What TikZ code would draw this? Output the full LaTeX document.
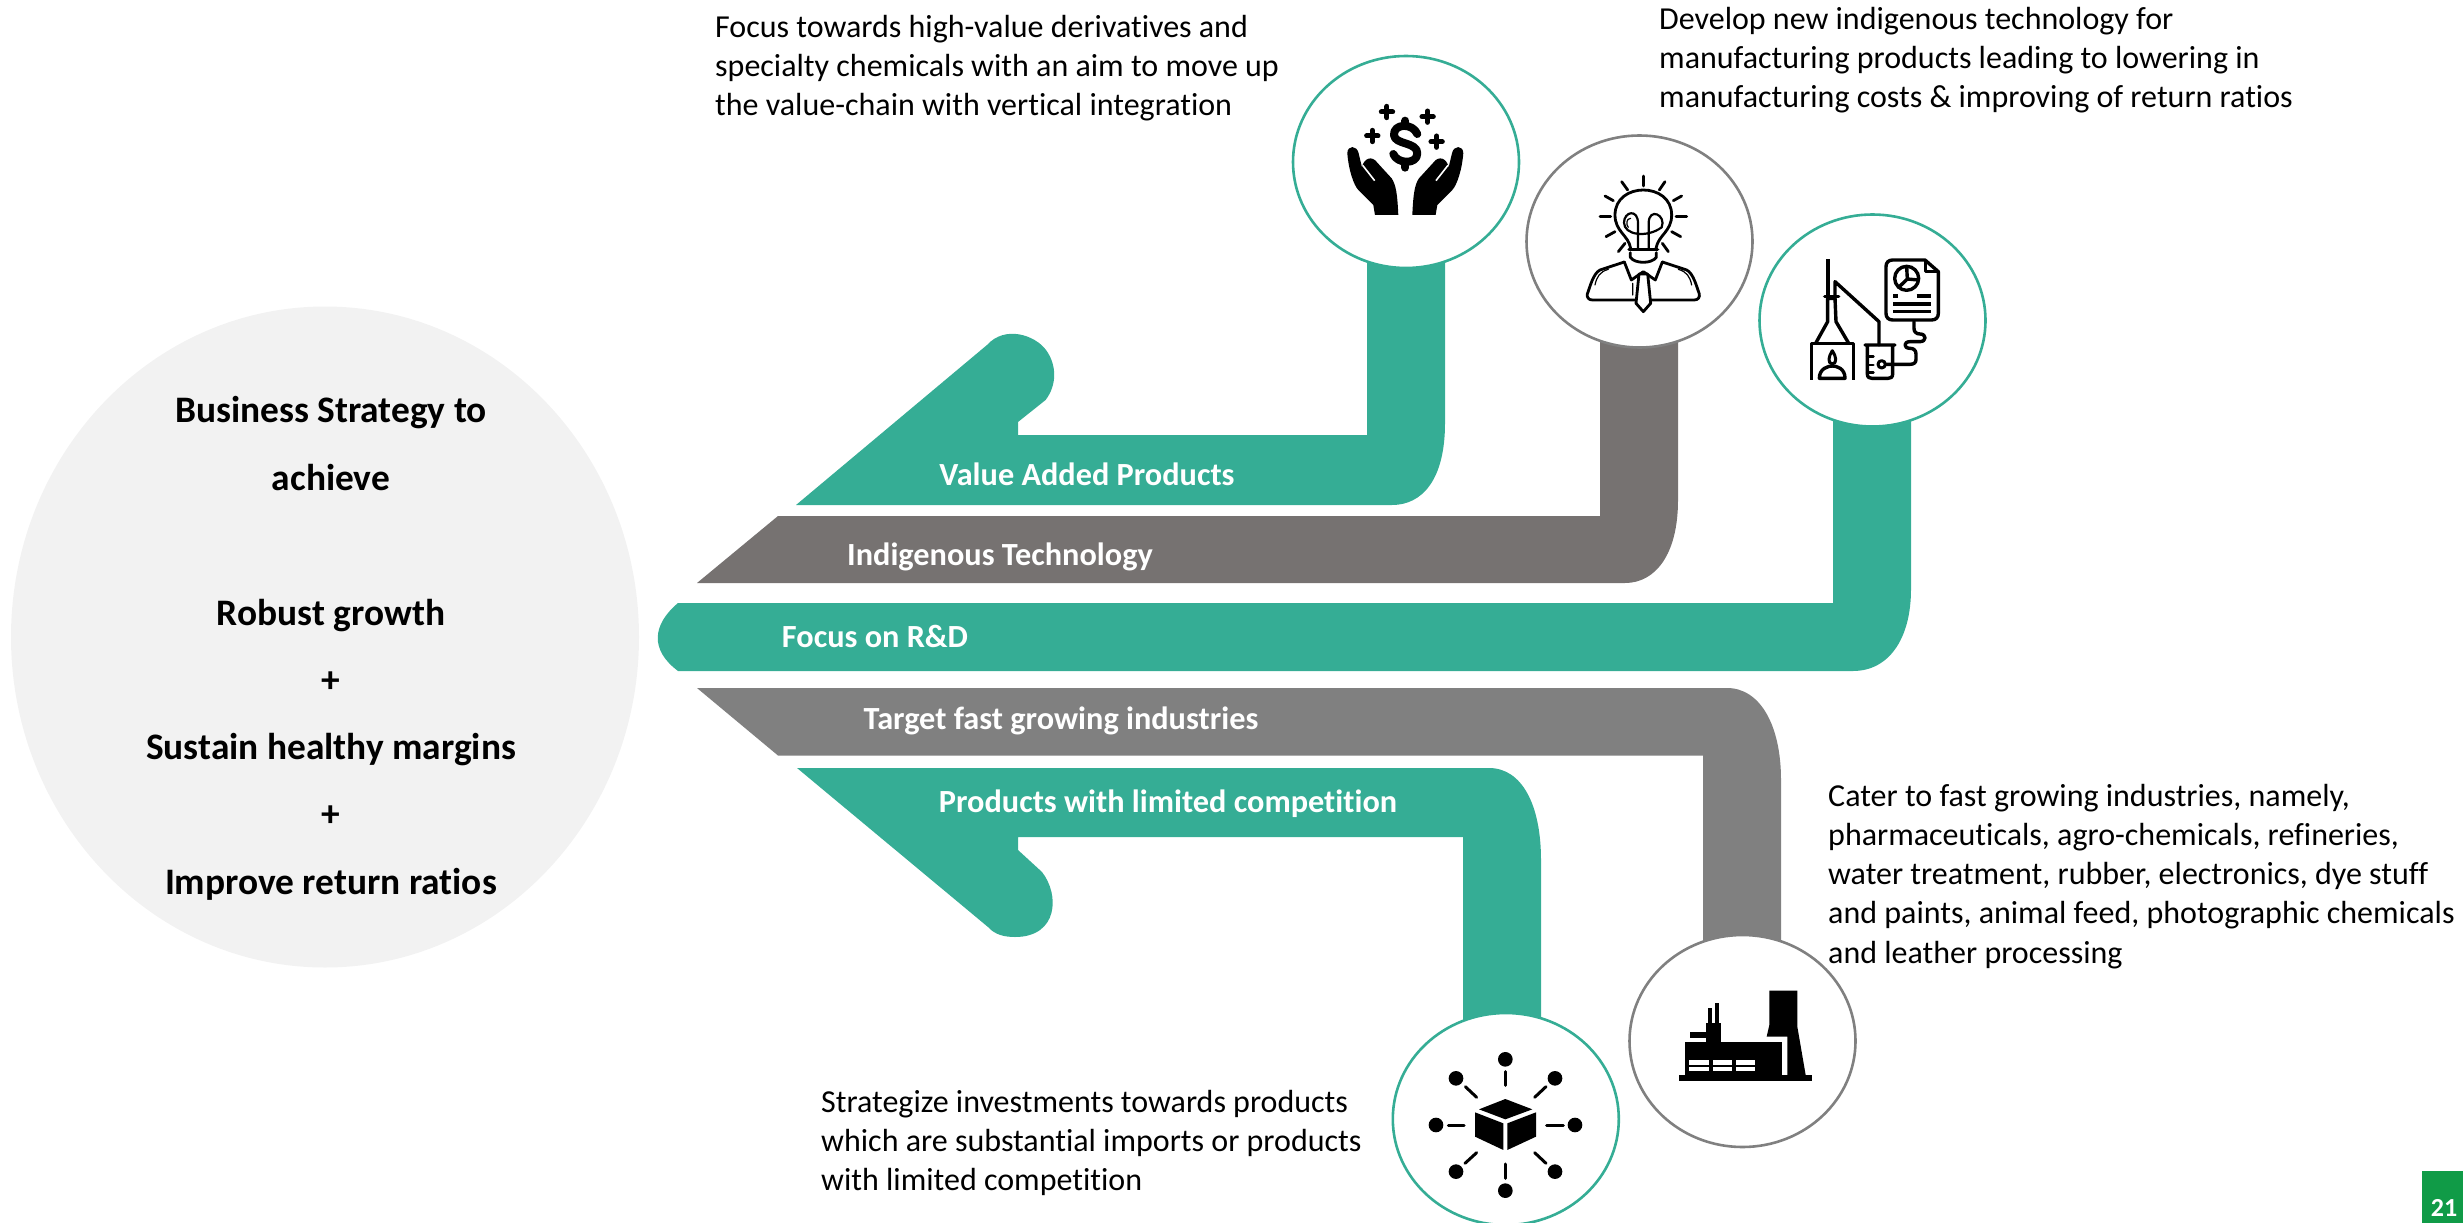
\documentclass[tikz,border=0pt]{standalone}
\usepackage{fontspec}
\setmainfont[Ligatures=NoCommon]{Carlito}
\usetikzlibrary{shapes.geometric}
\definecolor{bandteal}{HTML}{35AD95}
\definecolor{banddark}{HTML}{767271}
\definecolor{bandgrey}{HTML}{808080}
\definecolor{discgrey}{HTML}{F2F2F2}
\definecolor{pagegreen}{HTML}{109B47}
\tikzset{
  band/.style={fill=#1, draw=none},
  ring/.style={ellipse, draw=#1, fill=white, line width=2.6pt, minimum width=226pt, minimum height=212pt, inner sep=0pt},
  note/.style={anchor=north west, align=left, inner sep=0pt, font=\fontsize{32}{39.3}\selectfont},
  bandlabel/.style={anchor=center, inner sep=0pt, text=white, font=\fontsize{32.3}{38}\bfseries\selectfont},
  disclabel/.style={anchor=center, inner sep=0pt, font=\fontsize{37.4}{44}\bfseries\selectfont},
  iconunits/.style={x=0.3333pt, y=-0.3333pt},
  iconline/.style={line width=#1, line cap=round, line join=round},
}
\begin{document}
\begin{tikzpicture}[x=1pt,y=-1pt]
    \useasboundingbox (0,0) rectangle (2463,1223);

    \node[ellipse, fill=discgrey, minimum width=628pt, minimum height=661pt, inner sep=0pt] (disc) at (325,637) {};
    \node[disclabel] (d1) at (331,413) {Business Strategy to};
    \node[disclabel] (d2) at (331,478) {achieve};
    \node[disclabel] (d3) at (331,616) {Robust growth};
    \node[disclabel] (d4) at (331,682) {+};
    \node[disclabel] (d5) at (331,750) {Sustain healthy margins};
    \node[disclabel] (d6) at (331,816) {+};
    \node[disclabel] (d7) at (331,884) {Improve return ratios};

    % bands
    \fill[band=bandteal] (796,505) -- (1392,505) .. controls (1422,505) and (1445,480) .. (1445,423)
      -- (1445,162) -- (1367,162) -- (1367,435) -- (1018,435) -- (1018,422) -- (1045.6,400)
      .. controls (1057,385) and (1057,365) .. (1046,350) .. controls (1035,335) and (1005,325) .. (987,345) -- cycle;
    \fill[band=banddark] (697,583) -- (778,516) -- (1600,516) -- (1600,300) -- (1678,300) -- (1678,500)
      .. controls (1678,555) and (1655,583) .. (1625,583) -- cycle;
    \fill[band=bandteal] (678,603) -- (1833,603) -- (1833,400) -- (1911,400) -- (1911,589)
      .. controls (1911,640) and (1888,671) .. (1853,671) -- (678,671)
      .. controls (650,650) and (652,625) .. (678,603) -- cycle;
    \fill[band=bandgrey] (697,688) -- (1727,688) .. controls (1760,688) and (1781,725) .. (1781,780)
      -- (1781,1000) -- (1703,1000) -- (1703,755.5) -- (778,755.5) -- cycle;
    \fill[band=bandteal] (797,768) -- (1489,768) .. controls (1522,768) and (1541,805) .. (1541,860)
      -- (1541,1100) -- (1463,1100) -- (1463,837) -- (1018,837) -- (1018,850) -- (1042,872)
      .. controls (1060,895) and (1058,937) .. (1015,937) .. controls (1005,937) and (995,935) .. (988,927) -- cycle;

    \node[bandlabel] (valuelabel) at (1087,474.5) {Value Added Products};
    \node[bandlabel] (indiglabel) at (1000,557) {Indigenous Technology};
    \node[bandlabel] (focuslabel) at (875,636.5) {Focus on R\&D};
    \node[bandlabel] (targetlabel) at (1061,721) {Target fast growing industries};
    \node[bandlabel] (limitlabel) at (1168,804) {Products with limited competition};

    \node[ring=bandteal] (r1) at (1406,162) {};
    \node[ring=bandgrey] (r2) at (1639.5,241.5) {};
    \node[ring=bandteal] (r3) at (1872.5,320.5) {};
    \node[ring=bandgrey] (r4) at (1742.5,1041) {};
    \node[ring=bandteal] (r5) at (1505.8,1119) {};

    % hands
    \begin{scope}[shift={(1405.3,90)},iconunits]
      \foreach \sgn in {1,-1} {
        \fill[xscale=\sgn] (-174,190) .. controls (-174,165) and (-145,165) .. (-140,190) -- (-130,232)
          .. controls (-125,205) and (-100,195) .. (-84,218) -- (-41,265) .. controls (-28,285) and (-24,310) .. (-21,375)
          -- (-91,375) -- (-96,345) -- (-141,300) .. controls (-155,285) and (-170,240) .. cycle;
        \draw[white, line width=1.6pt, xscale=\sgn] (-128,226) -- (-92,272);
      }
      \draw[iconline=8pt] (36,132) .. controls (22,98) and (-36,100) .. (-34,135)
        .. controls (-32,165) and (36,155) .. (36,190) .. controls (36,225) and (-25,222) .. (-36,192);
      \draw[iconline=8pt] (0,92) -- (0,106) (0,218) -- (0,233);
      \foreach \px/\py in {-55/66, 67/80, -99/138, 94/155} {
        \draw[iconline=5pt] (\px-17,\py) -- (\px+17,\py) (\px,\py-17) -- (\px,\py+17);
      }
    \end{scope}

    % bulb head
    \begin{scope}[shift={(1560,140)},iconunits]
      \foreach \ax/\ay/\bx/\by in {250/108/250/138, 185/125/203/150, 135/168/160/182, 120/229/152/229, 138/290/165/275, 175/335/195/310,
          315/125/298/150, 365/168/340/182, 380/229/348/229, 362/290/335/275, 325/335/307/310} {
        \draw[iconline=2.8pt] (\ax,\ay) -- (\bx,\by);
      }
      \draw[iconline=2.8pt] (212,325) .. controls (205,285) and (165,275) .. (165,225)
        .. controls (165,125) and (335,125) .. (335,225) .. controls (335,275) and (295,285) .. (288,325);
      \draw[iconline=3.2pt] (207,328) -- (293,328);
      \draw[iconline=2.2pt] (234,325) -- (234,250) .. controls (234,205) and (192,215) .. (192,248)
        .. controls (192,285) and (260,295) .. (305,262) .. controls (320,225) and (266,200) .. (266,250) -- (266,325);
      \draw[iconline=2.8pt] (211,338) -- (211,352) .. controls (225,372) and (275,372) .. (289,352) -- (289,338);
      \draw[iconline=2.8pt] (193,366) -- (120,390) .. controls (100,400) and (90,440) .. (82,462)
        .. controls (80,472) and (86,480) .. (97,480) -- (403,480) .. controls (414,480) and (420,472) .. (418,462)
        .. controls (410,440) and (400,400) .. (380,390) -- (307,366);
      \draw[iconline=2.8pt] (193,366) -- (214,420) -- (250,395) -- (286,420) -- (307,366);
      \filldraw[iconline=2.8pt, fill=white] (237,402) -- (228,490) -- (250,515) -- (272,490) -- (263,402) -- cycle;
      \draw[iconline=1.2pt] (218,430) -- (218,465) (105,435) .. controls (110,410) and (120,395) .. (145,388)
        (395,435) .. controls (390,410) and (380,395) .. (355,388) (212,235) .. controls (198,235) and (198,255) .. (205,262);
    \end{scope}

    % still and report
    \begin{scope}[shift={(1780,200)},iconunits]
      \draw[iconline=3.4pt, line cap=butt] (95,540) -- (95,430) -- (220,430) -- (220,540);
      \draw[iconline=3.4pt] (108,428) -- (143,365) -- (143,295) -- (165,295) -- (168,365) -- (205,428);
      \draw[iconline=3.4pt] (134,290) -- (176,290);
      \draw[iconline=3.8pt, line cap=butt] (143,178) -- (143,290);
      \draw[iconline=3.4pt] (165,295) -- (165,245) -- (297,365) -- (297,435);
      \draw[iconline=3pt] (157,452) .. controls (145,470) and (142,490) .. (157,492) .. controls (172,490) and (169,470) .. (157,452);
      \draw[iconline=3.4pt] (118,535) .. controls (118,505) and (145,498) .. (157,498) .. controls (170,498) and (195,505) .. (195,535) -- cycle;
      \draw[iconline=3.4pt] (255,435) -- (345,435) (262,435) -- (262,522) .. controls (262,532) and (268,535) .. (275,535)
        -- (325,535) .. controls (332,535) and (338,532) .. (338,522) -- (338,435);
      \draw[iconline=2.8pt] (262,470) -- (280,470) (262,495) -- (280,495) (262,518) -- (280,518);
      \draw[iconline=3pt] (305,493) circle[radius=11];
      \draw[iconline=3.4pt] (318,493) -- (390,493) .. controls (402,493) and (408,488) .. (408,478) -- (408,462)
        .. controls (408,450) and (400,445) .. (390,445) .. controls (370,445) and (370,425) .. (390,425) -- (420,425)
        .. controls (440,425) and (440,402) .. (420,402) .. controls (408,402) and (402,395) .. (402,385) -- (402,365);
      \draw[iconline=3.4pt] (435,180) -- (338,180) .. controls (325,180) and (318,188) .. (318,200) -- (318,340)
        .. controls (318,352) and (325,360) .. (338,360) -- (455,360) .. controls (468,360) and (475,352) .. (475,340)
        -- (475,215) -- cycle;
      \draw[iconline=3pt] (435,182) -- (435,215) -- (475,215);
      \draw[iconline=3.4pt] (380,235) circle[radius=36];
      \draw[iconline=3.4pt] (380,200) -- (382,237) -- (415,240) (382,237) -- (356,262);
      \draw[iconline=3.4pt, line cap=butt] (340,288) -- (355,288) (410,288) -- (452,288) (340,312) -- (452,312) (340,335) -- (452,335);
    \end{scope}

    % factory
    \begin{scope}[shift={(1660,970)},iconunits]
      \fill (58,315) rectangle (455,333);
      \fill (75,215) rectangle (365,315);
      \fill (138,160) rectangle (183,215);
      \fill (90,187) rectangle (150,205);
      \fill (145,113) rectangle (155,160);
      \fill (165,100) rectangle (177,160);
      \fill (328,62) -- (412,62) -- (412,170) -- (437,315) -- (382,315) -- (382,200) -- (320,200) -- (328,165) -- cycle;
      \foreach \wx in {88,158,228} {
        \fill[white] (\wx,270) rectangle (\wx+58,284);
        \fill[white] (\wx,290) rectangle (\wx+58,302);
      }
    \end{scope}

    % cube and spokes
    \begin{scope}[shift={(1400,1010)},iconunits]
      \fill (316,267) -- (397,298) -- (316,328) -- (237,298) -- cycle;
      \fill (225,307) -- (310,340) -- (310,420) -- (225,380) -- cycle;
      \fill (322,340) -- (408,307) -- (408,380) -- (322,420) -- cycle;
      \foreach \bx/\by in {316/148, 168/205, 465/205, 108/345, 525/345, 168/485, 465/485, 316/542} {
        \fill (\bx,\by) circle[radius=22];
      }
      \foreach \ax/\ay/\bx/\by in {316/185/316/226, 196/230/230/262, 438/230/404/262, 145/345/192/345, 440/345/490/345,
          195/460/230/428, 438/460/404/428, 316/462/316/505} {
        \draw[iconline=3pt] (\ax,\ay) -- (\bx,\by);
      }
    \end{scope}

    % notes
    \node[note] (n1) at (715,14.6) {Focus towards high-value derivatives and\\specialty chemicals with an aim to move up\\the value-chain with vertical integration};
    \node[note] (n2) at (1659,6.6) {Develop new indigenous technology for\\manufacturing products leading to lowering in\\manufacturing costs \& improving of return ratios};
    \node[note] (n3) at (1828,783.6) {Cater to fast growing industries, namely,\\pharmaceuticals, agro-chemicals, refineries,\\water treatment, rubber, electronics, dye stuff\\and paints, animal feed, photographic chemicals\\and leather processing};
    \node[note] (n4) at (821,1089.6) {Strategize investments towards products\\which are substantial imports or products\\with limited competition};

    % page number
    \fill[pagegreen] (2422,1171) rectangle (2463,1223);
    \node[inner sep=0pt, text=white, font=\fontsize{26}{30}\bfseries\selectfont] (pagenum) at (2444,1208) {21};
\end{tikzpicture}
\end{document}
